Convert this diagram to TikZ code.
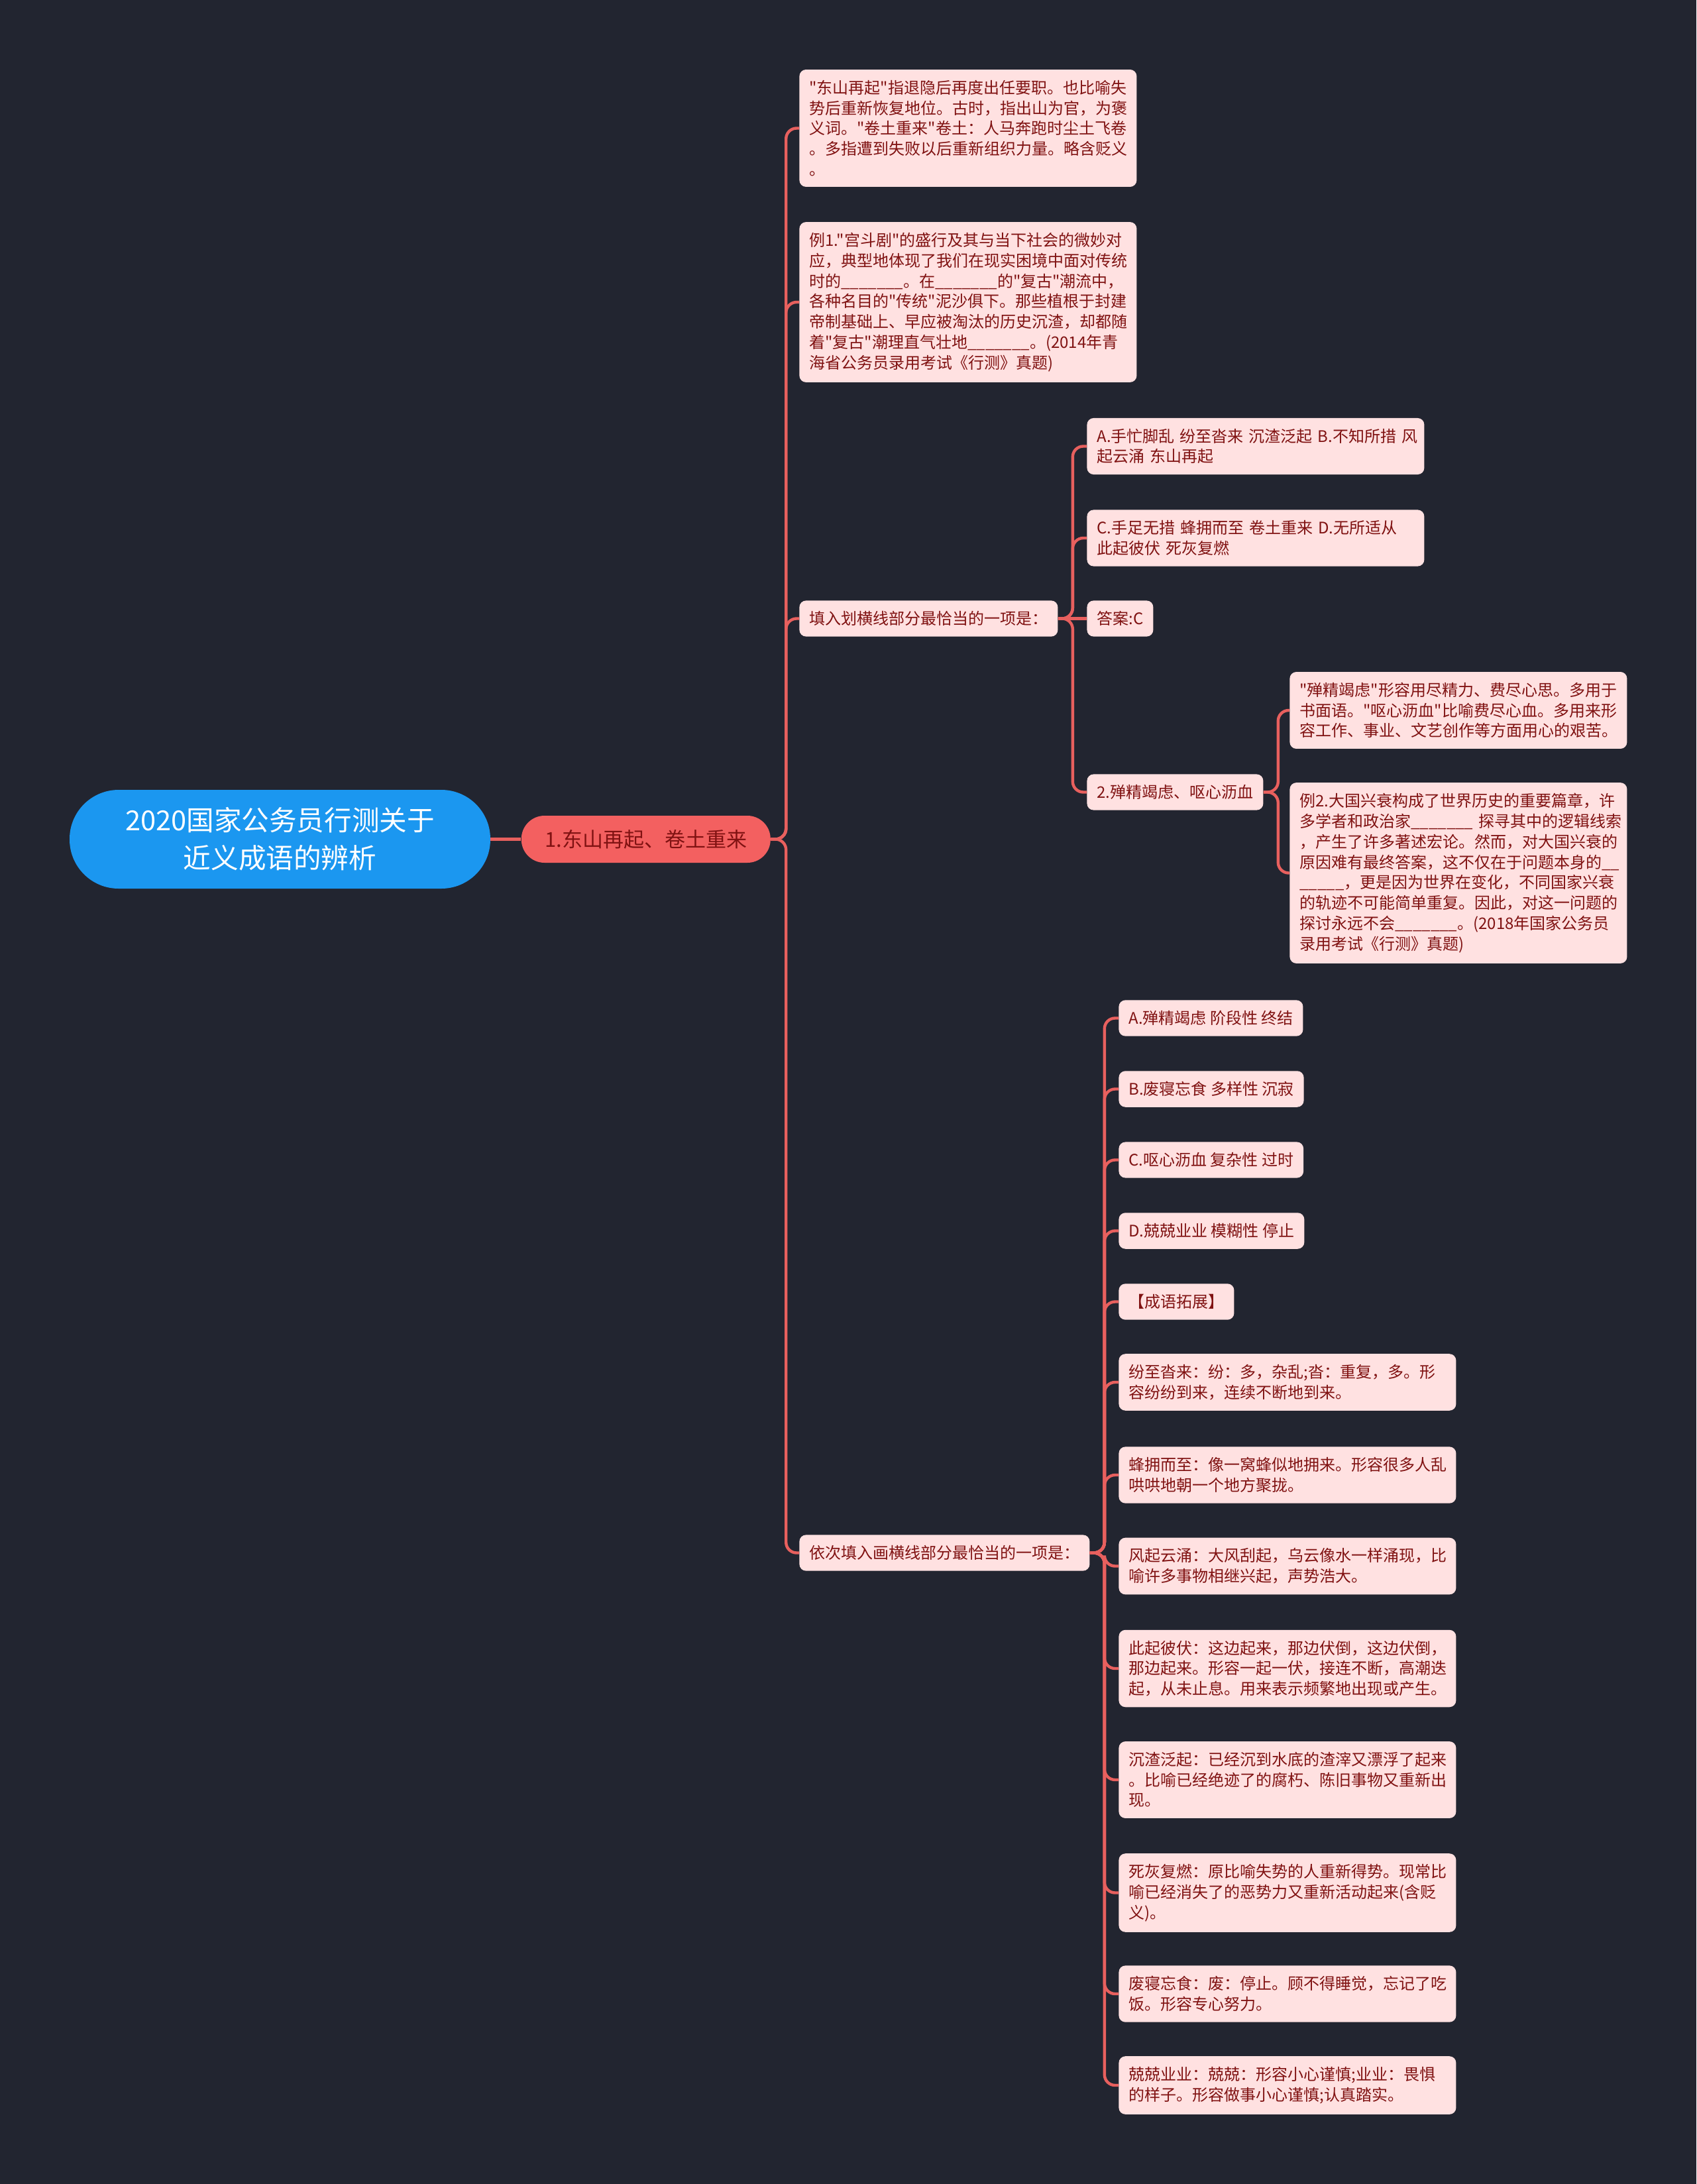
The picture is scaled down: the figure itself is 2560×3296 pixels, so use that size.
\documentclass[tikz,border=0pt]{standalone}
\usepackage{fontspec}
\setmainfont{Noto Sans CJK SC}[Ligatures=TeXOff]
\usetikzlibrary{positioning}

\definecolor{bgdark}{RGB}{34,37,48}
\definecolor{rootblue}{RGB}{27,151,240}
\definecolor{topicred}{RGB}{243,96,96}
\definecolor{leafpink}{RGB}{255,225,225}
\definecolor{leaftext}{RGB}{128,18,18}
\definecolor{linkred}{RGB}{232,96,94}

\begin{document}
\begin{tikzpicture}[
    x=0.5pt, y=-0.5pt,
    every node/.style={text=leaftext},
    root/.style={rectangle, rounded corners=37pt, fill=rootblue, text=white, minimum width=317.5pt, minimum height=74.5pt, align=center, font=\fontsize{20.8}{28.5}\selectfont},
    topic/.style={rectangle, rounded corners=17.5pt, fill=topicred, minimum width=188pt, minimum height=35.5pt, font=\fontsize{15.5}{18}\selectfont},
    leaf/.style={rectangle, rounded corners=5pt, fill=leafpink, align=left, inner xsep=7.5pt, inner ysep=8pt, font=\fontsize{12}{15.4}\selectfont},
    wideleaf/.style={leaf, text width=239.5pt},
    link/.style={draw=linkred, line width=2.2pt, rounded corners=8pt}
]
\useasboundingbox (0,0) rectangle (2560,3296);
\fill[bgdark] (0,0) rectangle (2560,3296);

% Root and main topic
\node[root] (root) at (422.5,1266.5) {2020国家公务员行测关于\\近义成语的辨析};
\node[topic, right=23pt of root] (dongshan) {1.东山再起、卷土重来};

% Second level
\node[wideleaf, anchor=west] (explain) at (1206,193.5) {"东山再起"指退隐后再度出任要职。也比喻失\\势后重新恢复地位。古时，指出山为官，为褒\\义词。"卷土重来"卷土：人马奔跑时尘土飞卷\\。多指遭到失败以后重新组织力量。略含贬义\\。};
\node[wideleaf, anchor=west] (example1) at (1206,456) {例1."宫斗剧"的盛行及其与当下社会的微妙对\\应，典型地体现了我们在现实困境中面对传统\\时的\_\_\_\_\_\_\_。在\_\_\_\_\_\_\_的"复古"潮流中，\\各种名目的"传统"泥沙俱下。那些植根于封建\\帝制基础上、早应被淘汰的历史沉渣，却都随\\着"复古"潮理直气壮地\_\_\_\_\_\_\_。(2014年青\\海省公务员录用考试《行测》真题)};
\node[leaf, anchor=west] (fillin) at (1206,933.5) {填入划横线部分最恰当的一项是：};
\node[leaf, anchor=west] (order) at (1206,2343.5) {依次填入画横线部分最恰当的一项是：};

% Example 1 options
\node[wideleaf, anchor=west] (optAB) at (1640,673.5) {A.手忙脚乱~纷至沓来~沉渣泛起~B.不知所措~风\\起云涌 东山再起};
\node[wideleaf, anchor=west] (optCD) at (1640,812) {C.手足无措~蜂拥而至~卷土重来~D.无所适从\\此起彼伏 死灰复燃};
\node[leaf, anchor=west] (answer) at (1640,933.5) {答案:C};
\node[leaf, anchor=west] (jinglv) at (1640,1195.5) {2.殚精竭虑、呕心沥血};

% Second idiom pair
\node[wideleaf, anchor=west] (meaning) at (1946,1072) {"殚精竭虑"形容用尽精力、费尽心思。多用于\\书面语。"呕心沥血"比喻费尽心血。多用来形\\容工作、事业、文艺创作等方面用心的艰苦。};
\node[wideleaf, anchor=west] (example2) at (1946,1317.5) {例2.大国兴衰构成了世界历史的重要篇章，许\\多学者和政治家\_\_\_\_\_\_\_~探寻其中的逻辑线索\\，产生了许多著述宏论。然而，对大国兴衰的\\原因难有最终答案，这不仅在于问题本身的\_\_\\\_\_\_\_\_，更是因为世界在变化，不同国家兴衰\\的轨迹不可能简单重复。因此，对这一问题的\\探讨永远不会\_\_\_\_\_\_\_。(2018年国家公务员\\录用考试《行测》真题)};

% Example 2 options and idiom notes
\foreach \txt [count=\i] in {A.殚精竭虑 阶段性 终结, B.废寝忘食 多样性 沉寂, C.呕心沥血 复杂性 过时, D.兢兢业业 模糊性 停止, 【成语拓展】}
  \node[leaf, anchor=west] (pick\i) at (1688,1429.5+107*\i) {\txt};
\node[wideleaf, anchor=west] (note1) at (1688,2086) {纷至沓来：纷：多，杂乱;沓：重复，多。形\\容纷纷到来，连续不断地到来。};
\node[wideleaf, anchor=west] (note2) at (1688,2226) {蜂拥而至：像一窝蜂似地拥来。形容很多人乱\\哄哄地朝一个地方聚拢。};
\node[wideleaf, anchor=west] (note3) at (1688,2363.5) {风起云涌：大风刮起，乌云像水一样涌现，比\\喻许多事物相继兴起，声势浩大。};
\node[wideleaf, anchor=west] (note4) at (1688,2518) {此起彼伏：这边起来，那边伏倒，这边伏倒，\\那边起来。形容一起一伏，接连不断，高潮迭\\起，从未止息。用来表示频繁地出现或产生。};
\node[wideleaf, anchor=west] (note5) at (1688,2686) {沉渣泛起：已经沉到水底的渣滓又漂浮了起来\\。比喻已经绝迹了的腐朽、陈旧事物又重新出\\现。};
\node[wideleaf, anchor=west] (note6) at (1688,2856.5) {死灰复燃：原比喻失势的人重新得势。现常比\\喻已经消失了的恶势力又重新活动起来(含贬\\义)。};
\node[wideleaf, anchor=west] (note7) at (1688,3009) {废寝忘食：废：停止。顾不得睡觉，忘记了吃\\饭。形容专心努力。};
\node[wideleaf, anchor=west] (note8) at (1688,3147) {兢兢业业：兢兢：形容小心谨慎;业业：畏惧\\的样子。形容做事小心谨慎;认真踏实。};

% Connectors
\draw[link] (root.east) -- (dongshan.west);
\foreach \c in {explain,example1,fillin,order}
  \draw[link] (dongshan.east) -- ++(23,0) |- (\c.west);
\foreach \c in {optAB,optCD,jinglv}
  \draw[link] (fillin.east) -- ++(22,0) |- (\c.west);
\draw[link] (fillin.east) -- (answer.west);
\foreach \c in {meaning,example2}
  \draw[link] (jinglv.east) -- ++(22,0) |- (\c.west);
\foreach \c in {pick1,pick2,pick3,pick4,pick5,note1,note2,note3,note4,note5,note6,note7,note8}
  \draw[link] (order.east) -- ++(22,0) |- (\c.west);

\end{tikzpicture}
\end{document}
